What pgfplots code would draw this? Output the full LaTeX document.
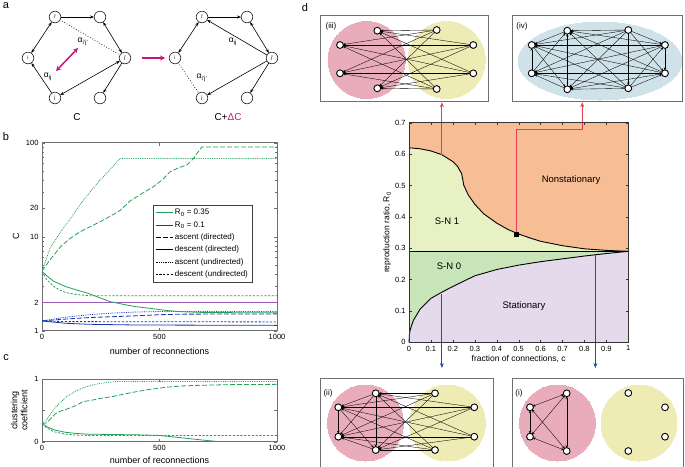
\documentclass[border=0pt]{standalone}
\usepackage{fontspec}
\setmainfont{Liberation Sans}
\usepackage{pgfplots}
\usepackage{pgfplotstable}
\pgfplotsset{compat=1.18}
\usetikzlibrary{arrows.meta}
\definecolor{cgreen}{RGB}{35,160,90}
\definecolor{cblue}{RGB}{25,55,175}
\definecolor{cpurple}{RGB}{160,90,190}
\definecolor{corange}{RGB}{247,190,150}
\definecolor{cyg}{RGB}{232,241,196}
\definecolor{csn}{RGB}{200,228,185}
\definecolor{clav}{RGB}{228,218,236}
\definecolor{cpink}{RGB}{232,172,186}
\definecolor{cyel}{RGB}{238,235,180}
\definecolor{cltblue}{RGB}{208,226,233}
\definecolor{cred}{RGB}{228,60,80}
\definecolor{cdblue}{RGB}{35,75,180}
\definecolor{cmag}{RGB}{200,20,120}
\definecolor{cframe}{RGB}{110,110,110}
\pgfplotsset{every tick label/.append style={font=\fontsize{7.5}{8}\selectfont},
  /pgf/number format/assume math mode=true}
\tikzset{
  ldash/.style={dash pattern=on 5pt off 2pt},
  sdash/.style={dash pattern=on 2.2pt off 1.6pt},
  dott/.style={dash pattern=on 0.8pt off 1pt},
}
% phase diagram boundaries
\pgfplotstableread{
c r
0 0.62
0.05 0.617
0.1 0.61
0.15 0.598
0.2 0.576
0.22 0.562
0.24 0.538
0.25 0.5
0.27 0.47
0.3 0.44
0.34 0.41
0.4 0.38
0.45 0.36
0.5 0.345
0.55 0.333
0.6 0.322
0.7 0.308
0.8 0.298
0.9 0.293
1 0.29
}\uptab
\pgfplotstableread{
c r
0 0
0.002 0.025
0.005 0.038
0.01 0.05
0.02 0.07
0.05 0.105
0.1 0.14
0.15 0.16
0.2 0.178
0.3 0.212
0.4 0.232
0.5 0.246
0.6 0.257
0.7 0.266
0.8 0.275
0.9 0.283
1 0.29
}\lowtab
\begin{document}
\begin{tikzpicture}
\useasboundingbox (0,0) rectangle (685pt,-466pt);
% ================= overlay (panel a + insets of d) =================
\begin{axis}[at={(0pt,0pt)}, anchor=north west, scale only axis, width=685pt, height=466pt,
  xmin=0, xmax=685, ymin=0, ymax=466, y dir=reverse, hide axis, clip=false,
  clip marker paths=true]
% panel letters
\node[font=\fontsize{11}{11}\selectfont] at (axis cs:6,6) {a};
\node[font=\fontsize{11}{11}\selectfont] at (axis cs:6,137) {b};
\node[font=\fontsize{11}{11}\selectfont] at (axis cs:6,358) {c};
\node[font=\fontsize{11}{11}\selectfont] at (axis cs:305,8) {d};
% ---- panel a ----
\addplot[black, line width=0.7pt, dotted] coordinates {(55,17) (125,58)};
\addplot[black, line width=0.7pt, dotted] coordinates {(175,58) (202,98)};
\addplot[quiver={u=\thisrow{x2}-\thisrow{x}, v=\thisrow{y2}-\thisrow{y}},
  black, line width=0.6pt, -{Stealth[length=4pt,width=3pt]}, shorten >=6pt, shorten <=6pt] table {
x y x2 y2
55 17 100 17
125 58 100 98
55 98 28 58
202 17 247 17
272 58 247 98
272 58 202 17
272 58 202 98
};
\addplot[quiver={u=\thisrow{x2}-\thisrow{x}, v=\thisrow{y2}-\thisrow{y}},
  black, line width=0.6pt, {Stealth[length=4pt,width=3pt]}-{Stealth[length=4pt,width=3pt]}, shorten >=6pt, shorten <=6pt] table {
x y x2 y2
100 17 125 58
55 17 28 58
55 98 125 58
247 17 272 58
202 17 175 58
};
\addplot[quiver={u=\thisrow{x2}-\thisrow{x}, v=\thisrow{y2}-\thisrow{y}},
  cmag, line width=1.5pt, {Stealth[length=5pt,width=5pt]}-{Stealth[length=5pt,width=5pt]}] table {
x y x2 y2
56 71 78 48
};
\addplot[quiver={u=\thisrow{x2}-\thisrow{x}, v=\thisrow{y2}-\thisrow{y}},
  cmag, line width=1.8pt, -{Stealth[length=5pt,width=5pt]}] table {
x y x2 y2
142 58 165 58
};
\addplot[only marks, mark=*, mark size=5.8pt, mark options={fill=white, draw=black!85, line width=0.6pt}] coordinates {
(55,17) (100,17) (28,58) (125,58) (55,98) (100,98)
(202,17) (247,17) (175,58) (272,58) (202,98) (247,98)};
\node[font=\fontsize{5}{5}\selectfont] at (axis cs:55,17) {i’};
\node[font=\fontsize{5}{5}\selectfont] at (axis cs:28,58) {i};
\node[font=\fontsize{5}{5}\selectfont] at (axis cs:125,58) {j’};
\node[font=\fontsize{5}{5}\selectfont] at (axis cs:55,98) {j};
\node[font=\fontsize{5}{5}\selectfont] at (axis cs:202,17) {i’};
\node[font=\fontsize{5}{5}\selectfont] at (axis cs:175,58) {i};
\node[font=\fontsize{5}{5}\selectfont] at (axis cs:272,58) {j’};
\node[font=\fontsize{5}{5}\selectfont] at (axis cs:202,98) {j};
\node[font=\fontsize{8.5}{9}\selectfont] at (axis cs:83,42) {α\textsubscript{i’j’}};
\node[font=\fontsize{8.5}{9}\selectfont] at (axis cs:48,77) {α\textsubscript{ij}};
\node[font=\fontsize{8.5}{9}\selectfont] at (axis cs:233,42) {α\textsubscript{ij}};
\node[font=\fontsize{8.5}{9}\selectfont] at (axis cs:202,78) {α\textsubscript{i’j’}};
\node[font=\fontsize{10}{10}\selectfont] at (axis cs:77,117) {C};
\node[font=\fontsize{10}{10}\selectfont] at (axis cs:228,117) {C+\textcolor{cmag}{ΔC}};
% ---- inset (iii) ----
\addplot[cpink, only marks, mark=*, mark size=38.5pt, mark options={fill=cpink, draw=cpink, line width=0pt}] coordinates {(366.7,60)};
\addplot[cyel, only marks, mark=*, mark size=38.5pt, mark options={fill=cyel, draw=cyel, line width=0pt}] coordinates {(446.7,60)};
\addplot[quiver={u=\thisrow{x2}-\thisrow{x}, v=\thisrow{y2}-\thisrow{y}},
  black, line width=0.35pt, -{Stealth[length=2.8pt,width=2.4pt]}, shorten >=3pt] table {
x y x2 y2
436.7 30 377.3 30.7
436.7 30 340 45
436.7 30 340 73.3
436.7 30 377.3 88.3
473.3 45 377.3 30.7
473.3 45 340 45
473.3 45 340 73.3
473.3 45 377.3 88.3
473.3 73.3 377.3 30.7
473.3 73.3 340 45
473.3 73.3 340 73.3
473.3 73.3 377.3 88.3
436.7 89 377.3 30.7
436.7 89 340 45
436.7 89 340 73.3
436.7 89 377.3 88.3
};
\addplot[only marks, mark=*, mark size=3.4pt, mark options={fill=white, draw=black, line width=0.9pt}] coordinates {
(377.3,30.7) (340,45) (340,73.3) (377.3,88.3) (436.7,30) (473.3,45) (473.3,73.3) (436.7,89)};
\addplot[cframe, line width=0.8pt] coordinates {(320.7,15) (488.3,15) (488.3,101) (320.7,101) (320.7,15)};
\node[font=\fontsize{8}{8}\selectfont] at (axis cs:331,26.7) {(iii)};
% ---- inset (iv) ----
\addplot[cltblue, only marks, mark=*, mark size=39pt, mark options={xscale=2.1, fill=cltblue, draw=cltblue, line width=0pt}] coordinates {(600,61)};
\addplot[quiver={u=\thisrow{x2}-\thisrow{x}, v=\thisrow{y2}-\thisrow{y}},
  black, line width=0.35pt, -{Stealth[length=2.8pt,width=2.4pt]}, shorten >=3pt] table {
x y x2 y2
628.3 30 531.7 45
628.3 30 531.7 73.3
628.3 30 567.3 30.7
628.3 30 567.3 89.3
628.3 88.3 531.7 45
628.3 88.3 531.7 73.3
628.3 88.3 567.3 30.7
628.3 88.3 567.3 89.3
665 45 531.7 45
665 45 531.7 73.3
665 45 567.3 30.7
665 45 567.3 89.3
665 73.3 531.7 45
665 73.3 531.7 73.3
665 73.3 567.3 30.7
665 73.3 567.3 89.3
531.7 73.3 531.7 45
567.3 30.7 531.7 45
567.3 89.3 531.7 73.3
567.3 89.3 567.3 30.7
531.7 45 567.3 89.3
531.7 73.3 567.3 30.7
628.3 30 665 45
628.3 88.3 665 73.3
665 45 665 73.3
628.3 30 628.3 88.3
628.3 30 665 73.3
628.3 88.3 665 45
};
\addplot[only marks, mark=*, mark size=3.4pt, mark options={fill=white, draw=black, line width=0.9pt}] coordinates {
(531.7,45) (531.7,73.3) (567.3,30.7) (567.3,89.3) (628.3,30) (628.3,88.3) (665,45) (665,73.3)};
\addplot[cframe, line width=0.8pt] coordinates {(512.7,15) (682.7,15) (682.7,101) (512.7,101) (512.7,15)};
\node[font=\fontsize{8}{8}\selectfont] at (axis cs:522,26.7) {(iv)};
% ---- inset (ii) ----
\addplot[cpink, only marks, mark=*, mark size=38pt, mark options={fill=cpink, draw=cpink, line width=0pt}] coordinates {(365.5,423)};
\addplot[cyel, only marks, mark=*, mark size=38pt, mark options={fill=cyel, draw=cyel, line width=0pt}] coordinates {(447.5,423)};
\addplot[quiver={u=\thisrow{x2}-\thisrow{x}, v=\thisrow{y2}-\thisrow{y}},
  black, line width=0.35pt, -{Stealth[length=2.8pt,width=2.4pt]}, shorten >=3pt] table {
x y x2 y2
435 393.3 375.7 393.3
435 393.3 338.3 407.3
435 393.3 338.3 436.7
435 393.3 375.7 450
474.3 407.3 375.7 393.3
474.3 407.3 338.3 407.3
474.3 407.3 338.3 436.7
474.3 407.3 375.7 450
474.3 436.7 375.7 393.3
474.3 436.7 338.3 407.3
474.3 436.7 338.3 436.7
474.3 436.7 375.7 450
435 450 375.7 393.3
435 450 338.3 407.3
435 450 338.3 436.7
435 450 375.7 450
375.7 393.3 338.3 407.3
338.3 407.3 338.3 436.7
375.7 393.3 338.3 436.7
338.3 407.3 375.7 450
375.7 450 338.3 436.7
375.7 393.3 375.7 450
};
\addplot[only marks, mark=*, mark size=3.4pt, mark options={fill=white, draw=black, line width=0.9pt}] coordinates {
(375.7,393.3) (338.3,407.3) (338.3,436.7) (375.7,450) (435,393.3) (474.3,407.3) (474.3,436.7) (435,450)};
\addplot[cframe, line width=0.8pt] coordinates {(320,475) (320,378.5) (493,378.5) (493,475)};
\node[font=\fontsize{8}{8}\selectfont] at (axis cs:328,393) {(ii)};
% ---- inset (i) ----
\addplot[cpink, only marks, mark=*, mark size=38pt, mark options={fill=cpink, draw=cpink, line width=0pt}] coordinates {(557.5,423)};
\addplot[cyel, only marks, mark=*, mark size=38pt, mark options={fill=cyel, draw=cyel, line width=0pt}] coordinates {(639,423)};
\addplot[quiver={u=\thisrow{x2}-\thisrow{x}, v=\thisrow{y2}-\thisrow{y}},
  black, line width=0.35pt, {Stealth[length=2.8pt,width=2.4pt]}-{Stealth[length=2.8pt,width=2.4pt]}, shorten >=3pt, shorten <=3pt] table {
x y x2 y2
566.7 393.3 530 407.3
530 407.3 530 436.7
566.7 393.3 530 436.7
530 407.3 566.7 451
566.7 451 530 436.7
566.7 393.3 566.7 451
};
\addplot[only marks, mark=*, mark size=3.4pt, mark options={fill=white, draw=black, line width=0.9pt}] coordinates {
(566.7,393.3) (530,407.3) (530,436.7) (566.7,451) (628.3,393) (665,407.3) (665,436.7) (628.3,451)};
\addplot[cframe, line width=0.8pt] coordinates {(512,475) (512,378.5) (683,378.5) (683,475)};
\node[font=\fontsize{8}{8}\selectfont] at (axis cs:519,393) {(i)};
\end{axis}
% ================= panel b =================
\begin{axis}[at={(42pt,-330.7pt)}, anchor=south west, scale only axis,
  width=235pt, height=188pt, xmin=0, xmax=1000, ymode=log, ymin=1, ymax=100,
  xtick={0,500,1000}, xticklabels={0,500,1000},
  ytick={1,2,10,20,100}, yticklabels={1,2,10,20,100},
  minor ytick={3,4,5,6,7,8,9,30,40,50,60,70,80,90},
  axis line style={cframe, line width=0.7pt}, tick style={cframe},
  major tick length=3pt, minor tick length=2pt,
  xlabel={number of reconnections}, ylabel={C},
  label style={font=\fontsize{9}{10}\selectfont},
  xlabel style={yshift=-2pt},
  legend cell align=left,
  legend style={at={(0.472,0.669)}, anchor=north west, font=\fontsize{8}{9}\selectfont,
    draw=black!75, row sep=1.2pt, inner sep=2pt},
  legend image post style={line width=0.8pt},
]
\addlegendimage{cgreen, line width=0.8pt}\addlegendentry{R\textsubscript{0} = 0.35}
\addlegendimage{cblue, line width=0.8pt}\addlegendentry{R\textsubscript{0} = 0.1}
\addlegendimage{black, ldash}\addlegendentry{ascent (directed)}
\addlegendimage{black}\addlegendentry{descent (directed)}
\addlegendimage{black, dott}\addlegendentry{ascent (undirected)}
\addlegendimage{black, sdash}\addlegendentry{descent (undirected)}
\addplot[cpurple, line width=0.8pt, forget plot] coordinates {(0,2) (1000,2)};
% blue R0 = 0.1
\addplot[cblue, line width=0.8pt, dott, forget plot] coordinates {
(0,1.27) (50,1.33) (100,1.39) (200,1.48) (300,1.54) (400,1.58) (500,1.6) (1000,1.6)};
\addplot[cblue, line width=0.8pt, ldash, forget plot] coordinates {
(0,1.27) (100,1.33) (200,1.38) (300,1.41) (400,1.44) (500,1.48) (600,1.5) (1000,1.51)};
\addplot[cblue, line width=0.8pt, sdash, forget plot] coordinates {
(0,1.27) (100,1.25) (1000,1.24)};
\addplot[cblue, line width=0.8pt, forget plot] coordinates {
(0,1.27) (100,1.2) (200,1.17) (400,1.15) (1000,1.14)};
% green R0 = 0.35
\addplot[cgreen, line width=0.8pt, dott, forget plot] coordinates {
(0,4.3) (15,5.5) (34,7.5) (77,11) (120,15.5) (162,22) (205,30) (247,40) (290,52) (332,68) (1000,68)};
\addplot[cgreen, line width=0.8pt, ldash, forget plot] coordinates {
(0,4.3) (30,5.5) (80,7.9) (120,9.6) (162,11.3) (205,12.8) (247,14.4) (290,16.5) (332,19) (375,24) (417,28) (474,34) (510,40) (545,49) (580,54) (616,58) (640,66) (680,90) (1000,90)};
\addplot[cgreen, line width=0.8pt, forget plot] coordinates {
(0,4.3) (25,3.75) (50,3.35) (100,2.95) (150,2.7) (204,2.46) (250,2.22) (289,2.04) (350,1.9) (400,1.8) (460,1.73) (530,1.64) (600,1.59) (700,1.56) (1000,1.55)};
\addplot[cgreen, line width=0.8pt, sdash, forget plot] coordinates {
(0,4.3) (20,3.5) (50,2.95) (77,2.7) (100,2.55) (150,2.42) (200,2.36) (300,2.35) (1000,2.35)};
\end{axis}
% ================= panel c =================
\begin{axis}[at={(42pt,-441.7pt)}, anchor=south west, scale only axis,
  width=235pt, height=62.7pt, xmin=0, xmax=1000, ymin=0, ymax=1,
  xtick={0,500,1000}, xticklabels={0,500,1000}, ytick={0,0.5,1}, yticklabels={0,,1},
  axis line style={cframe, line width=0.7pt}, tick style={cframe}, major tick length=3pt,
  xlabel={number of reconnections},
  ylabel={clustering\\coefficient}, ylabel style={align=center},
  label style={font=\fontsize{9}{10}\selectfont},
]
\addplot[cgreen, line width=0.8pt, dott] coordinates {
(0,0.29) (20,0.35) (34,0.43) (60,0.56) (105,0.72) (140,0.8) (176,0.86) (210,0.9) (247,0.93) (290,0.95) (320,0.96) (1000,0.96)};
\addplot[cgreen, line width=0.8pt, ldash] coordinates {
(0,0.29) (20,0.3) (40,0.38) (58,0.45) (80,0.49) (105,0.52) (140,0.57) (176,0.64) (210,0.66) (247,0.69) (300,0.72) (350,0.76) (390,0.79) (450,0.83) (532,0.87) (600,0.89) (674,0.9) (800,0.91) (1000,0.915)};
\addplot[cgreen, line width=0.8pt] coordinates {
(0,0.29) (20,0.24) (50,0.19) (100,0.15) (150,0.13) (200,0.12) (300,0.115) (400,0.11) (500,0.1) (600,0.06) (700,0.02) (750,0.003) (800,0) (1000,0)};
\addplot[cgreen, line width=0.8pt, sdash] coordinates {
(0,0.29) (20,0.22) (50,0.16) (100,0.12) (150,0.105) (200,0.1) (1000,0.1)};
\end{axis}
% ================= panel d =================
\begin{axis}[at={(409pt,-342.3pt)}, anchor=south west, scale only axis,
  width=219.3pt, height=219.6pt, xmin=0, xmax=1, ymin=0, ymax=0.7,
  xtick={0,0.1,0.2,0.3,0.4,0.5,0.6,0.7,0.8,0.9,1},
  xticklabels={0,0.1,0.2,0.3,0.4,0.5,0.6,0.7,0.8,0.9,1},
  ytick={0,0.1,0.2,0.3,0.4,0.5,0.6,0.7},
  yticklabels={0,0.1,0.2,0.3,0.4,0.5,0.6,0.7},
  axis line style={black!80, line width=0.7pt}, tick style={black!80}, major tick length=2.5pt,
  xlabel={fraction of connections, c}, ylabel={reproduction ratio, R\textsubscript{0}},
  label style={font=\fontsize{8.5}{9}\selectfont},
  xlabel style={yshift=3pt}, ylabel style={yshift=-3pt},
  axis on top, clip=false,
]
\addplot[fill=corange, draw=none] coordinates {(0,0) (1,0) (1,0.7) (0,0.7)} -- cycle;
\addplot[fill=cyg, draw=none] table[x=c, y=r] {\uptab} \closedcycle;
\addplot[fill=csn, draw=none] coordinates {(0,0) (1,0) (1,0.29) (0,0.29)} -- cycle;
\addplot[fill=clav, draw=none] table[x=c, y=r] {\lowtab} \closedcycle;
\addplot[black, line width=0.9pt] table[x=c, y=r] {\uptab};
\addplot[black, line width=0.9pt] table[x=c, y=r] {\lowtab};
\addplot[black, line width=0.9pt] coordinates {(0,0.29) (1,0.29)};
\addplot[cred, line width=0.9pt, -{Stealth[length=5pt,width=4pt]}] coordinates {(0.15,0.598) (0.15,0.765)};
\addplot[cred, line width=0.9pt, -{Stealth[length=5pt,width=4pt]}] coordinates {(0.49,0.345) (0.49,0.68) (0.79,0.68) (0.79,0.765)};
\addplot[cdblue, line width=0.9pt, -{Stealth[length=5pt,width=4pt]}] coordinates {(0.15,0.155) (0.15,-0.082)};
\addplot[cdblue, line width=0.9pt, -{Stealth[length=5pt,width=4pt]}] coordinates {(0.85,0.28) (0.85,-0.082)};
\addplot[only marks, mark=square*, mark size=2pt, black] coordinates {(0.49,0.345)};
\node[font=\fontsize{9.5}{10}\selectfont] at (axis cs:0.739,0.517) {Nonstationary};
\node[font=\fontsize{9.5}{10}\selectfont] at (axis cs:0.173,0.387) {S-N 1};
\node[font=\fontsize{9.5}{10}\selectfont] at (axis cs:0.182,0.243) {S-N 0};
\node[font=\fontsize{9.5}{10}\selectfont] at (axis cs:0.524,0.116) {Stationary};
\end{axis}
\end{tikzpicture}
\end{document}
